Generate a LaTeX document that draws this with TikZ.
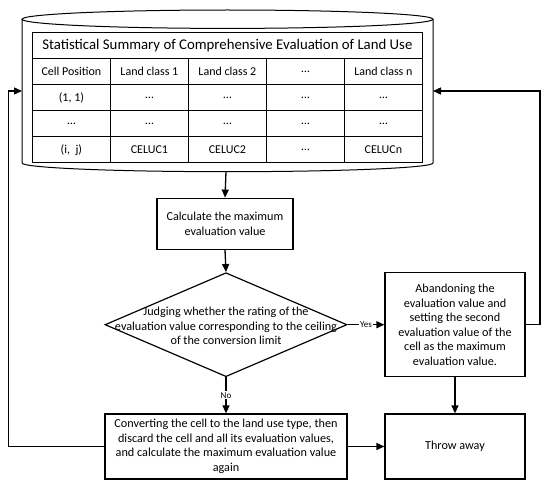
\documentclass[tikz,border=0pt]{standalone}
\usepackage{fontspec}
\setmainfont{Carlito}
\usetikzlibrary{arrows.meta,shapes.geometric}
\begin{document}
\begin{tikzpicture}[x=1pt,y=-1pt, line width=1pt,
  box/.style={draw, line width=1.2pt, align=center, inner sep=0pt,
    font=\fontsize{12.2}{14.5}\selectfont},
  arr/.style={-{Triangle[length=8pt,width=7pt]}, line width=1.3pt},
  cell/.style={inner sep=0pt, font=\fontsize{12}{14}\selectfont},
  lbl/.style={font=\fontsize{9}{10}\selectfont, fill=white, inner sep=1pt}]
\useasboundingbox (0,0) rectangle (550,487);

% database cylinder
\draw (227.5,19.2) ellipse [x radius=205.5pt, y radius=9.2pt];
\draw (22,19.2) -- (22,163) arc[start angle=180, end angle=360, x radius=205.5pt, y radius=8.7pt] -- (433,19.2);
\coordinate (dbL) at (22,91);
\coordinate (dbR) at (433,91);
\coordinate (dbB) at (226,171.7);

% table
\draw (32.4,32.3) rectangle (422.4,162.7);
\foreach \y in {59,84.3,110.7,136.7} \draw (32.4,\y) -- (422.4,\y);
\foreach \x in {110.7,188.6,266.9,344.9} \draw (\x,59) -- (\x,162.7);
\node[cell, font=\fontsize{14.8}{16}\selectfont] (title) at (227.4,45.8) {Statistical Summary of Comprehensive Evaluation of Land Use};
\foreach \t [count=\i] in {Cell Position,Land class 1,Land class 2,…,Land class n}
  \node[cell] (h\i) at ({32.4+78*(\i-0.5)},71.8) {\t};
\foreach \t [count=\i] in {{(1, 1)},…,…,…,…}
  \node[cell] (a\i) at ({32.4+78*(\i-0.5)},97.6) {\t};
\foreach \t [count=\i] in {…,…,…,…,…}
  \node[cell] (b\i) at ({32.4+78*(\i-0.5)},123.8) {\t};
\foreach \t [count=\i] in {{(i,\ \ j)},CELUC1,CELUC2,…,CELUCn}
  \node[cell] (r\i) at ({32.4+78*(\i-0.5)},149.8) {\t};

% flow nodes
\node[box, minimum width=136pt, minimum height=51pt] (calc) at (225,223.7) {Calculate the maximum\\evaluation value};
\node[draw, line width=1.2pt, diamond, inner sep=0pt, minimum width=242pt, minimum height=104pt] (dia) at (226,324.7) {};
\node[align=center, inner sep=0pt, font=\fontsize{12.2}{14.5}\selectfont] (diatext) at (226,326) {Judging whether the rating of the\\evaluation value corresponding to the ceiling\\of the conversion limit};
\node[box, minimum width=140pt, minimum height=104pt] (aband) at (455,324.7) {Abandoning the\\evaluation value and\\setting the second\\evaluation value of the\\cell as the maximum\\evaluation value.};
\node[box, minimum width=140pt, minimum height=65pt] (throw) at (455,446.5) {Throw away};
\node[box, minimum width=242pt, minimum height=65pt] (conv) at (226,446.5) {Converting the cell to the land use type, then\\discard the cell and all its evaluation values,\\and calculate the maximum evaluation value\\again};

% connectors
\draw[arr] (dbB) -- (calc.north);
\draw[arr] (calc.south) -- (dia.north);
\draw[arr] (dia.east) -- node[lbl] (yes) {Yes} (aband.west);
\draw[arr] (dia.south) -- node[lbl] (no) {No} (conv.north);
\draw[arr] (aband.south) -- (throw.north);
\draw[arr] (conv.east) -- (throw.west);
\draw[arr] (aband.east) -- (540,324.7) |- (dbR);
\draw[arr] (conv.west) -- (8.5,446.5) |- (dbL);
\end{tikzpicture}
\end{document}
